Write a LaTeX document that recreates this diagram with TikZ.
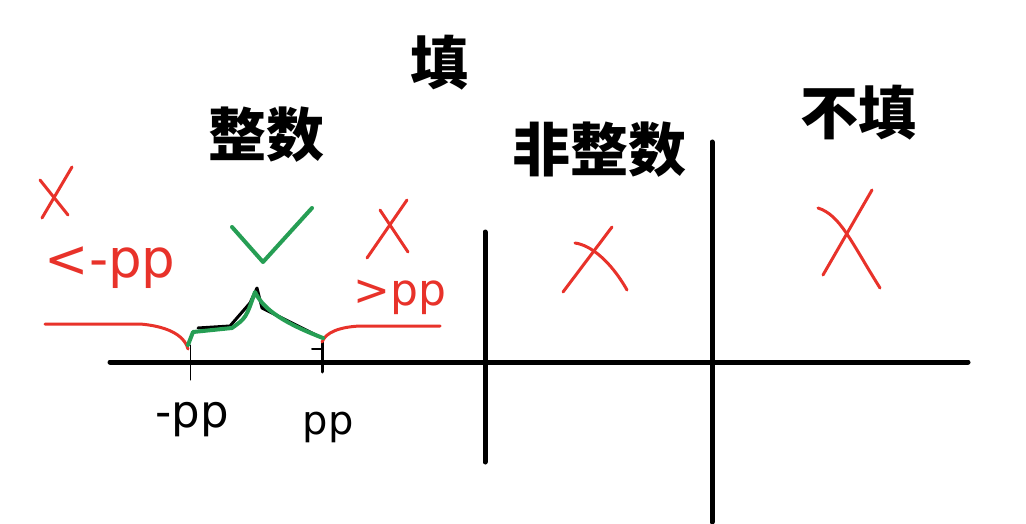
\documentclass[tikz,border=0pt]{standalone}
\usepackage{fontspec}
\setmainfont{DejaVu Sans}
\newfontfamily\cjk{Noto Sans CJK SC}
\definecolor{penred}{RGB}{232,50,42}
\definecolor{pengreen}{RGB}{38,158,84}

\begin{document}
\begin{tikzpicture}[x=1pt, y=-1pt, line cap=round, line join=round,
  head/.style={font=\cjk\bfseries\fontsize{58}{58}\selectfont, inner sep=0pt},
  hand/.style={font=\fontsize{#1}{#1}\selectfont, inner sep=0pt},
  axis/.style={line width=5pt},
  redpen/.style={draw=penred, line width=3pt},
  greenpen/.style={draw=pengreen, line width=4pt}]
    \useasboundingbox[fill=white] (0,0) rectangle (1026,524);

    % Nodes
    \node[head] (tian) at (439,63) {填};
    \node[head] (zhengshu) at (266,135) {整数};
    \node[head] (feizhengshu) at (599,150) {非整数};
    \node[head] (butian) at (858,113) {不填};
    \node[hand=53, text=penred] (lessneg) at (110,268) {<-pp};
    \node[hand=44, text=penred] (morepos) at (400,297) {>pp};
    \node[hand=45] (negpp) at (192,420) {-pp};
    \node[hand=40] (pp) at (328,427) {pp};

    % Lines
    \coordinate (lo) at (190,362);
    \coordinate (hi) at (322,362);
    \draw[axis] (110,362) -- (968,362);
    \draw[axis] (485,232) -- (485,462);
    \draw[axis] (712,142) -- (712,522);
    \draw[line width=1pt] (lo) ++(0,-17) -- ++(0,35);
    \draw[line width=3pt] (hi) ++(0,-20) -- ++(0,30);
    \draw[line width=2pt] (312,349) -- (322,349);

    % Ranges
    \draw[redpen] (45,324) -- (140,324) .. controls (165,326) and (184,334) .. (188,349);
    \draw[redpen] (322,342) .. controls (326,332) and (340,327) .. (360,326) -- (440,326);
    \draw[line width=3pt] (198,328) -- (230,326) -- (250,303) -- (257,288) -- (262,308) -- (290,322) -- (320,337);
    \draw[greenpen] (188,345) -- (193,332) -- (232,328) .. controls (246,318) .. (255,292) .. controls (262,306) and (276,320) .. (323,338);

    % Marks
    \draw[greenpen] (232,227) -- (263,262) -- (312,208);
    \draw[redpen] (40,180) -- (68,215);
    \draw[redpen] (72,167) -- (42,218);
    \draw[redpen] (380,210) -- (408,252);
    \draw[redpen] (407,200) -- (367,258);
    \draw[redpen] (575,243) .. controls (590,245) and (610,260) .. (627,290);
    \draw[redpen] (612,227) -- (563,292);
    \draw[redpen] (818,208) .. controls (840,215) and (850,240) .. (880,288);
    \draw[redpen] (872,190) -- (823,275);
\end{tikzpicture}
\end{document}
